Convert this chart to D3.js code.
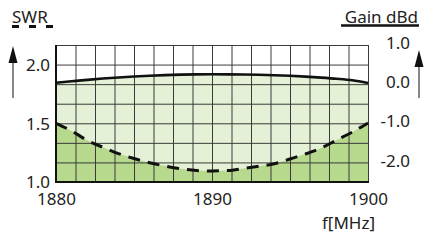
<!DOCTYPE html>
<html><head><meta charset="utf-8">
<script src="https://cdn.jsdelivr.net/npm/d3@7"></script>
<style>
html,body{margin:0;padding:0;background:#fff;}
svg{display:block;font-family:"Noto Sans",sans-serif;}
</style></head>
<body>
<script>
const freqs = [1880,1881,1882,1883,1884,1885,1886,1887,1888,1889,1890,1891,1892,1893,1894,1895,1896,1897,1898,1899,1900];
const swr = [1.50,1.435,1.355,1.296,1.242,1.200,1.164,1.136,1.113,1.098,1.094,1.098,1.115,1.135,1.155,1.196,1.239,1.290,1.358,1.426,1.503];
const gain = [-0.025,0.01,0.047,0.08,0.109,0.133,0.153,0.168,0.179,0.186,0.188,0.187,0.183,0.176,0.165,0.15,0.13,0.105,0.075,0.035,-0.035];
const freqTicks = [1880,1890,1900];
const swrTicks = [1.0,1.5,2.0];
const gainTicks = [1.0,0.0,-1.0,-2.0];

const W=424,H=240;
const L=56,R=368,T=45,B=182;
const svg=d3.select("body").append("svg").attr("width",W).attr("height",H);

const x=d3.scaleLinear().domain([1880,1900]).range([L,R]);
const yS=d3.scaleLinear().domain([1,1+7/6]).range([B,T]);
const yG=d3.scaleLinear().domain([-2.552,0.934]).range([B,T]);

// fills
const gainArea=d3.area().x((d,i)=>x(freqs[i])).y0(B).y1(d=>yG(d)).curve(d3.curveMonotoneX);
svg.append("path").datum(gain).attr("d",gainArea).attr("fill","#e4f1d6");
const swrArea=d3.area().x((d,i)=>x(freqs[i])).y0(B).y1(d=>yS(d)).curve(d3.curveMonotoneX);
svg.append("path").datum(swr).attr("d",swrArea).attr("fill","#b6d98d");

// grid
const vgrid=d3.range(0,17).map(i=>1880+i*1.25);
const hgrid=d3.range(0,8).map(i=>1+i/6);
const gx=svg.append("g").attr("transform",`translate(0,${B})`)
  .call(d3.axisBottom(x).tickValues(vgrid).tickSize(-(B-T)).tickFormat(""));
gx.select(".domain").remove();
gx.selectAll("line").attr("stroke","#3a3a3a").attr("stroke-width",1);
const gy=svg.append("g").attr("transform",`translate(${L},0)`)
  .call(d3.axisLeft(yS).tickValues(hgrid).tickSize(-(R-L)).tickFormat(""));
gy.select(".domain").remove();
gy.selectAll("line").attr("stroke","#3a3a3a").attr("stroke-width",1);

// curves
const gainLine=d3.line().x((d,i)=>x(freqs[i])).y(d=>yG(d)).curve(d3.curveMonotoneX);
svg.append("path").datum(gain).attr("d",gainLine).attr("fill","none").attr("stroke","#111").attr("stroke-width",2.6);
const swrLine=d3.line().x((d,i)=>x(freqs[i])).y(d=>yS(d)).curve(d3.curveMonotoneX);
svg.append("path").datum(swr).attr("d",swrLine).attr("fill","none").attr("stroke","#111").attr("stroke-width",3).attr("stroke-dasharray","12,8");

// axes frame
svg.append("line").attr("x1",L).attr("x2",L).attr("y1",T).attr("y2",B+1).attr("stroke","#111").attr("stroke-width",2);
svg.append("line").attr("x1",L-1).attr("x2",R+1).attr("y1",B).attr("y2",B).attr("stroke","#111").attr("stroke-width",2);

const tc="#222", fs=17;
// left tick labels
const al=svg.append("g").attr("transform",`translate(${L-6},0)`)
  .call(d3.axisLeft(yS).tickValues(swrTicks).tickSize(0).tickFormat(d3.format(".1f")));
al.select(".domain").remove();
al.selectAll("text").attr("font-size",fs).attr("fill",tc).attr("font-family","Noto Sans").attr("x",0).attr("dy","0.34em");
// right tick labels
const ar=svg.append("g").attr("transform",`translate(410,0)`)
  .call(d3.axisRight(yG).tickValues(gainTicks).tickSize(0).tickFormat(d3.format(".1f")));
ar.select(".domain").remove();
ar.selectAll("text").attr("font-size",fs).attr("fill",tc).attr("font-family","Noto Sans").attr("x",0).attr("text-anchor","end").attr("dy","0.34em").text(d=>d3.format(".1f")(d).replace("−","-"));
// bottom tick labels
const ab=svg.append("g").attr("transform",`translate(0,${B})`)
  .call(d3.axisBottom(x).tickValues(freqTicks).tickSize(0).tickFormat(d3.format("d")));
ab.select(".domain").remove();
ab.selectAll("text").attr("font-size",fs).attr("fill",tc).attr("font-family","Noto Sans").attr("y",11).attr("dy","0.71em");

svg.append("text").attr("x",375).attr("y",229).attr("text-anchor","end").attr("font-size",fs).attr("fill",tc).text("f[MHz]");

// titles
svg.append("text").attr("x",12).attr("y",23).attr("font-size",fs).attr("fill",tc).text("SWR");
svg.append("line").attr("x1",12).attr("x2",62).attr("y1",26.5).attr("y2",26.5).attr("stroke","#111").attr("stroke-width",3).attr("stroke-dasharray","7,10");
svg.append("text").attr("x",418).attr("y",23).attr("text-anchor","end").attr("font-size",fs).attr("fill",tc).text("Gain dBd");
svg.append("line").attr("x1",341).attr("x2",419).attr("y1",25.5).attr("y2",25.5).attr("stroke","#111").attr("stroke-width",2.5);

// arrows
function arrow(ax,ytip,ybot){
  svg.append("line").attr("x1",ax).attr("x2",ax).attr("y1",ytip+10).attr("y2",ybot).attr("stroke","#555").attr("stroke-width",1.4);
  svg.append("path").attr("d",`M${ax},${ytip} L${ax-4.5},${ytip+17} L${ax+4.5},${ytip+17} Z`).attr("fill","#111");
}
arrow(13,46,98);
arrow(419,50,98);
</script>
</body></html>
